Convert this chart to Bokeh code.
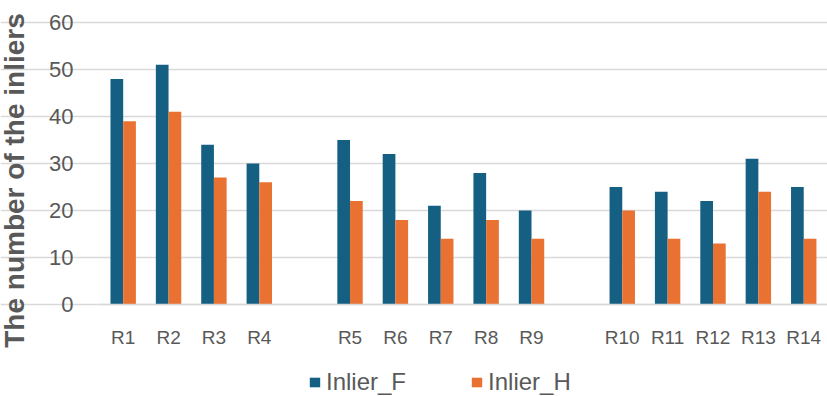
from bokeh.plotting import figure
from bokeh.models import ColumnDataSource, Legend, LegendItem, Label, FixedTicker, Range1d
from bokeh.transform import dodge
from bokeh.embed import file_html
from bokeh.resources import INLINE

categories = ["R1", "R2", "R3", "R4", "R5", "R6", "R7", "R8", "R9",
              "R10", "R11", "R12", "R13", "R14"]
groups = [0, 0, 0, 0, 1, 1, 1, 1, 1, 2, 2, 2, 2, 2]
inlier_f = [48, 51, 34, 30, 35, 32, 21, 28, 20, 25, 24, 22, 31, 25]
inlier_h = [39, 41, 27, 26, 22, 18, 14, 18, 14, 20, 14, 13, 24, 14]
y_ticks = [0, 10, 20, 30, 40, 50, 60]
series_names = ["Inlier_F", "Inlier_H"]
y_title = "The number of the inliers"

FONT = "Liberation Sans"
BLUE = "#156082"
ORANGE = "#E97132"
GRID = "#D9D9D9"
TXT = "#595959"

W, H = 827, 396
# pixel layout of the plotting area inside the figure
PX_LEFT, PX_TOP, PX_ZERO = 100, 22, 304
SLOT = 45.37
YPX = (PX_ZERO - PX_TOP) / 60.0

xpos = [i + g for i, g in enumerate(groups)]
src = ColumnDataSource(dict(x=xpos, f=inlier_f, h=inlier_h, cat=categories))

plot_left = -0.5
x_start = plot_left - PX_LEFT / SLOT
x_end = x_start + W / SLOT
y_start = -(H - PX_ZERO) / YPX
y_end = 60 + PX_TOP / YPX

p = figure(width=W, height=H, output_backend="svg", toolbar_location=None,
           x_range=Range1d(x_start, x_end), y_range=Range1d(y_start, y_end))
p.min_border_left = 0
p.min_border_right = 0
p.min_border_top = 0
p.min_border_bottom = 0
p.outline_line_color = None
p.background_fill_color = "white"

bw = 0.28
rf = p.vbar(x=dodge("x", -bw / 2, range=p.x_range), top="f", width=bw, source=src,
            fill_color=BLUE, line_color=None)
rh = p.vbar(x=dodge("x", bw / 2, range=p.x_range), top="h", width=bw, source=src,
            fill_color=ORANGE, line_color=None)

# x axis at y = 0
p.xaxis.fixed_location = 0
p.xaxis.bounds = (plot_left, x_end)
p.xaxis.ticker = FixedTicker(ticks=xpos)
p.xaxis.major_label_overrides = {x: c for x, c in zip(xpos, categories)}
p.xaxis.major_tick_line_color = None
p.xaxis.minor_tick_line_color = None
p.xaxis.axis_line_color = GRID
p.xaxis.axis_line_width = 1.5
p.xaxis.major_label_text_font = FONT
p.xaxis.major_label_text_font_size = "19px"
p.xaxis.major_label_text_color = TXT
p.xaxis.major_label_standoff = 16

# y axis at the left edge of the plotting area
p.yaxis.fixed_location = plot_left
p.yaxis.bounds = (y_ticks[0], y_ticks[-1])
p.yaxis.ticker = FixedTicker(ticks=y_ticks)
p.yaxis.major_tick_line_color = None
p.yaxis.minor_tick_line_color = None
p.yaxis.axis_line_color = None
p.yaxis.major_label_text_font = FONT
p.yaxis.major_label_text_font_size = "22px"
p.yaxis.major_label_text_color = TXT
p.yaxis.major_label_standoff = 21

p.xgrid.grid_line_color = None
p.ygrid.grid_line_color = GRID
p.ygrid.grid_line_width = 1.5
p.ygrid.bounds = (plot_left, x_end)

p.add_layout(Label(x=14, y=H - 180, x_units="screen", y_units="screen",
                   text=y_title, angle=90, angle_units="deg",
                   text_align="center", text_baseline="middle",
                   text_font=FONT, text_font_size="28px", text_font_style="bold",
                   text_color=TXT))

legend = Legend(items=[LegendItem(label=series_names[0], renderers=[rf]),
                       LegendItem(label=series_names[1], renderers=[rh])],
                orientation="horizontal", location=(308, 0))
legend.border_line_color = None
legend.background_fill_alpha = 0
legend.padding = 0
legend.margin = 0
legend.spacing = 64
legend.glyph_width = 13
legend.glyph_height = 12
legend.label_standoff = 5
legend.label_text_font = FONT
legend.label_text_font_size = "24px"
legend.label_text_color = TXT
p.add_layout(legend, "center")

open("out.html", "w").write(file_html(p, INLINE))
